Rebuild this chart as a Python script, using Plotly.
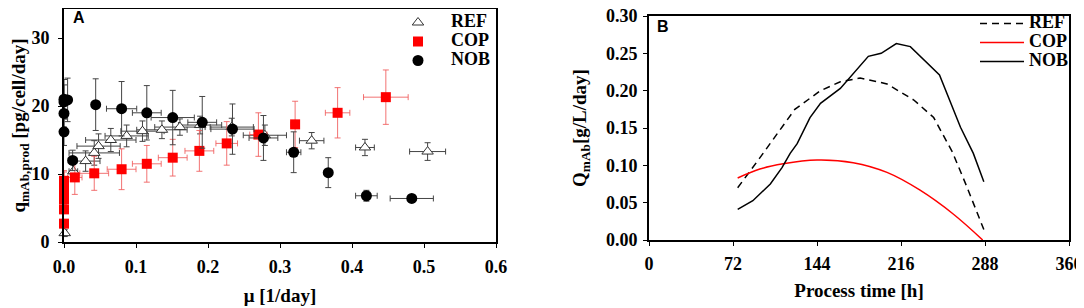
import plotly.graph_objects as go

# The page body has an 8px margin, so positions are given in window pixels minus OFF.
OFF = 8
W, H = 1084 - OFF, 308 - OFF


def fx(p):
    return (p - OFF) / W


def fy(p):
    return 1 - (p - OFF) / H


# ---------------- Panel A data ----------------
ref_mu = [0.001, 0.013, 0.030, 0.042, 0.048, 0.065, 0.087, 0.109, 0.136, 0.161, 0.189, 0.233, 0.279, 0.344, 0.418, 0.505]
ref_q = [1.3, 10.4, 11.9, 13.1, 14.1, 15.0, 15.6, 16.3, 16.5, 16.9, 17.2, 16.9, 15.7, 14.9, 13.9, 13.3]
ref_q_err = [0.5, 1.2, 1.5, 1.8, 1.8, 1.7, 1.6, 1.5, 1.3, 1.2, 1.3, 1.3, 1.5, 1.2, 1.2, 1.3]
ref_mu_err = [0.0, 0.006, 0.02, 0.035, 0.03, 0.035, 0.03, 0.03, 0.035, 0.035, 0.03, 0.03, 0.03, 0.017, 0.013, 0.025]

cop_mu = [0.0, 0.0, 0.0, 0.0, 0.0, 0.0, 0.0, 0.015, 0.042, 0.080, 0.115, 0.151, 0.188, 0.226, 0.270, 0.321, 0.380, 0.447]
cop_q = [2.7, 4.8, 6.3, 7.0, 7.8, 8.5, 9.0, 9.5, 10.1, 10.7, 11.5, 12.4, 13.4, 14.5, 15.8, 17.3, 19.0, 21.3]
cop_q_err = [0.5, 0.6, 1.0, 1.5, 1.5, 1.8, 1.5, 2.5, 2.5, 3.0, 2.7, 2.7, 3.0, 3.2, 3.2, 3.4, 3.7, 4.0]
cop_mu_err = [0, 0, 0, 0, 0, 0, 0, 0.01, 0.02, 0.02, 0.02, 0.02, 0.02, 0.015, 0.012, 0.006, 0.017, 0.031]

nob_mu = [0.0, 0.0, 0.0, 0.0, 0.005, 0.012, 0.044, 0.080, 0.115, 0.151, 0.192, 0.234, 0.277, 0.319, 0.367, 0.420, 0.483]
nob_q = [21.0, 20.6, 18.9, 16.2, 20.9, 12.0, 20.2, 19.6, 19.0, 18.3, 17.6, 16.6, 15.3, 13.2, 10.2, 6.8, 6.4]
nob_q_err = [2.9, 2.5, 2.0, 2.0, 3.2, 1.5, 3.8, 4.0, 4.0, 4.0, 3.8, 3.7, 3.3, 3.0, 2.2, 0.8, 0.2]
nob_mu_err = [0, 0, 0, 0, 0.003, 0.006, 0.0, 0.021, 0.02, 0.03, 0.02, 0.03, 0.02, 0.01, 0.0, 0.015, 0.030]

# ---------------- Panel B data ----------------
ref_t = [76, 95, 125, 141, 147, 164, 181, 204, 227, 244, 260, 272, 287]
ref_Q = [0.070, 0.110, 0.175, 0.194, 0.200, 0.212, 0.217, 0.209, 0.1875, 0.164, 0.118, 0.073, 0.014]

cop_t = [76, 95, 115, 144, 175, 204, 232, 261, 286]
cop_Q = [0.083, 0.095, 0.102, 0.107, 0.1035, 0.0905, 0.067, 0.0345, 0.0]

nob_t = [76, 89, 104, 114, 121, 127, 138, 147, 164, 188, 199, 212, 224, 249, 267, 278, 287]
nob_Q = [0.041, 0.0526, 0.075, 0.097, 0.116, 0.129, 0.164, 0.183, 0.203, 0.246, 0.250, 0.263, 0.259, 0.221, 0.151, 0.116, 0.078]

series_names = ["REF", "COP", "NOB"]

mu_ticks = [0.0, 0.1, 0.2, 0.3, 0.4, 0.5, 0.6]
q_ticks = [0, 10, 20, 30]
t_ticks = [0, 72, 144, 216, 288, 360]
Q_ticks = [0.00, 0.05, 0.10, 0.15, 0.20, 0.25, 0.30]

SERIF = "Liberation Serif"
SANS = "Liberation Sans"


def big(name):
    return '<span style="font-size:18px">' + name + "</span>"


fig = go.Figure()

# Panel A traces
fig.add_trace(go.Scatter(
    x=ref_mu, y=ref_q, mode="markers", name=big(series_names[0]), legend="legend",
    xaxis="x", yaxis="y", cliponaxis=False,
    marker=dict(symbol="triangle-up", size=10, color="white", line=dict(color="#333333", width=1)),
    error_y=dict(type="data", array=ref_q_err, color="#444444", thickness=1, width=3),
    error_x=dict(type="data", array=ref_mu_err, color="#444444", thickness=1, width=3),
))
fig.add_trace(go.Scatter(
    x=cop_mu, y=cop_q, mode="markers", name=big(series_names[1]), legend="legend",
    xaxis="x", yaxis="y", cliponaxis=False,
    marker=dict(symbol="square", size=10, color="#ff0000", line=dict(width=0)),
    error_y=dict(type="data", array=cop_q_err, color="rgba(240,90,90,0.85)", thickness=1, width=3),
    error_x=dict(type="data", array=cop_mu_err, color="rgba(240,90,90,0.85)", thickness=1, width=3),
))
fig.add_trace(go.Scatter(
    x=nob_mu, y=nob_q, mode="markers", name=big(series_names[2]), legend="legend",
    xaxis="x", yaxis="y", cliponaxis=False,
    marker=dict(symbol="circle", size=11, color="black", line=dict(width=0)),
    error_y=dict(type="data", array=nob_q_err, color="#444444", thickness=1, width=3),
    error_x=dict(type="data", array=nob_mu_err, color="#444444", thickness=1, width=3),
))

# Panel B traces
fig.add_trace(go.Scatter(
    x=ref_t, y=ref_Q, mode="lines", name=big(series_names[0]), legend="legend2",
    xaxis="x2", yaxis="y2", line=dict(color="black", width=1.5, dash="7px,5px"),
))
fig.add_trace(go.Scatter(
    x=cop_t, y=cop_Q, mode="lines", name=big(series_names[1]), legend="legend2",
    xaxis="x2", yaxis="y2", line=dict(color="#ff0000", width=1.5, shape="spline"),
))
fig.add_trace(go.Scatter(
    x=nob_t, y=nob_Q, mode="lines", name=big(series_names[2]), legend="legend2",
    xaxis="x2", yaxis="y2", line=dict(color="black", width=1.5),
))

TITLE_FONT = dict(family=SERIF, size=19, color="black", weight="bold")
LEG_FONT = dict(family=SERIF, size=12, color="black", weight="bold")

axis_common = dict(
    showgrid=False, zeroline=False, showline=True, linecolor="black", linewidth=2,
    mirror=True, ticks="outside", ticklen=4, tickcolor="black", tickwidth=1,
    automargin=False, ticklabeloverflow="allow",
    tickfont=dict(family=SERIF, size=18, color="black", weight="bold"),
)

# panel A: plot area window px x 64..496, y 4..242 (top moved to 9 so the frame stays visible)
A_PX_PER_UNIT = (242 - 4) / 35.0
A_TOP = 9
A_YMAX = (242 - A_TOP) / A_PX_PER_UNIT
# panel B: plot area window px x 649..1069, y 8..240 (top moved to 16 so the 0.30 label is whole)
B_TOP = 16

fig.update_layout(
    width=W, height=H,
    paper_bgcolor="white", plot_bgcolor="white",
    margin=dict(l=0, r=0, t=0, b=0, autoexpand=False),
    font=dict(family=SERIF, color="black"),
    xaxis=dict(**axis_common, domain=[fx(64), fx(496)], range=[0, 0.6], tickvals=mu_ticks, tickformat=".1f",
               anchor="y", ticklabelstandoff=3,
               title=dict(text="μ [1/day]", standoff=13, font=TITLE_FONT)),
    yaxis=dict(**axis_common, domain=[fy(242), fy(A_TOP)], range=[0, A_YMAX], tickvals=q_ticks,
               anchor="x", ticklabelstandoff=5,
               title=dict(text="q<sub>mAb,prod</sub> [pg/cell/day]", standoff=10, font=TITLE_FONT)),
    xaxis2=dict(**axis_common, domain=[fx(649), fx(1069)], range=[0, 360], tickvals=t_ticks,
                anchor="y2", ticklabelstandoff=2,
                title=dict(text="Process time [h]", standoff=11, font=TITLE_FONT)),
    yaxis2=dict(**axis_common, domain=[fy(240), fy(B_TOP)], range=[0, 0.30], tickvals=Q_ticks,
                tickformat=".2f", anchor="x2", ticklabelstandoff=2,
                title=dict(text="Q<sub>mAb</sub>[g/L/day]", standoff=14, font=TITLE_FONT)),
    legend=dict(x=fx(496), xanchor="right", y=1.0, yanchor="top",
                bgcolor="rgba(0,0,0,0)", font=LEG_FONT, itemwidth=56),
    legend2=dict(x=fx(1074), xanchor="right", y=fy(9), yanchor="top",
                 bgcolor="rgba(0,0,0,0)", font=LEG_FONT, itemwidth=44),
    showlegend=True,
    annotations=[
        dict(text="A", x=fx(71), y=fy(17), xref="paper", yref="paper", xanchor="left", yanchor="middle",
             showarrow=False, font=dict(family=SANS, size=16, color="black", weight="bold")),
        dict(text="B", x=fx(655), y=fy(26), xref="paper", yref="paper", xanchor="left", yanchor="middle",
             showarrow=False, font=dict(family=SANS, size=16, color="black", weight="bold")),
    ],
)

fig.write_html("out.html")
